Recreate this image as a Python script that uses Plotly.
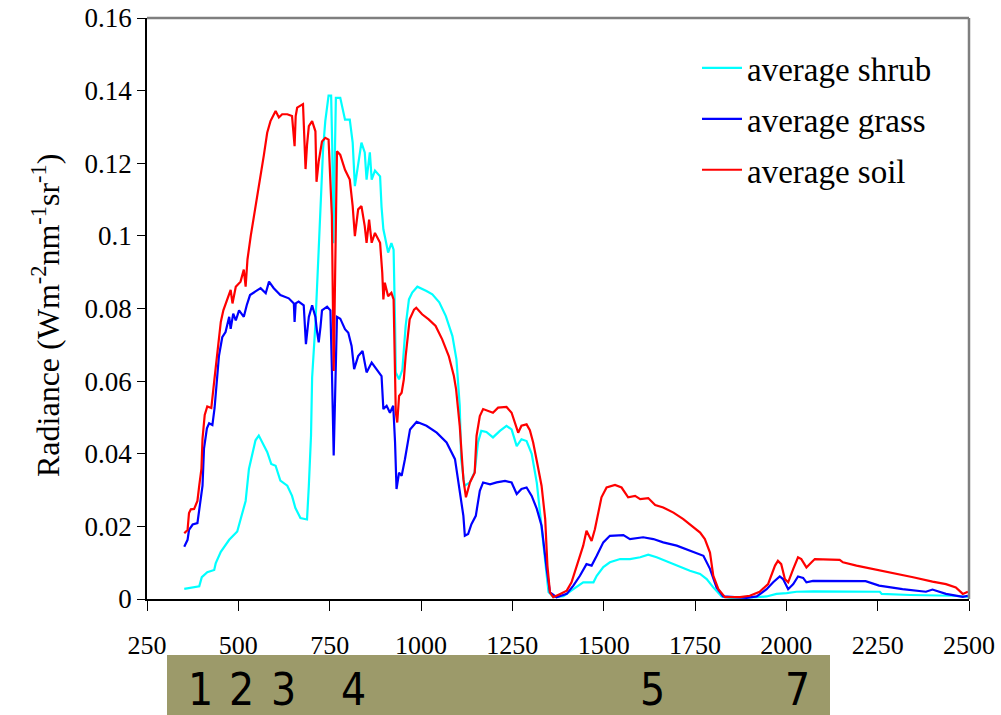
import plotly.graph_objects as go

# ---------------- data ----------------
series_names = ["average shrub", "average grass", "average soil"]

shrub_wl = [352, 393, 400, 415, 434, 438, 452, 475, 497, 506, 520, 529, 538, 547, 556, 568, 579, 590,
            602, 615, 634, 647, 656, 670, 688, 693, 699, 702, 711, 720, 725, 732, 738, 747, 754, 757,
            760, 763, 767, 779, 792, 805, 813, 819, 828, 837, 846, 851, 860, 865, 874, 888, 892, 897,
            901, 910, 919, 925, 929, 931, 940, 949, 958, 967, 976, 990, 1015, 1031, 1050, 1068, 1086,
            1097, 1106, 1110, 1119, 1133, 1147, 1156, 1165, 1179, 1197, 1216, 1234, 1248, 1262, 1275,
            1289, 1303, 1317, 1326, 1340, 1349, 1362, 1390, 1417, 1444, 1472, 1481, 1499, 1517, 1545,
            1572, 1600, 1622, 1645, 1673, 1700, 1736, 1764, 1782, 1800, 1823, 1846, 1891, 1919, 1946,
            1973, 2001, 2019, 2028, 2074, 2119, 2256, 2261, 2339, 2456, 2494, 2500]
shrub_val = [0.0028, 0.0035, 0.006, 0.0074, 0.008, 0.0098, 0.013, 0.0163, 0.0186, 0.0219, 0.027, 0.0358,
             0.0395, 0.0437, 0.045, 0.0428, 0.0405, 0.0372, 0.0367, 0.0326, 0.0312, 0.0284, 0.0251,
             0.0223, 0.0219, 0.0312, 0.0451, 0.061, 0.0758, 0.0963, 0.109, 0.124, 0.1316, 0.1386,
             0.1386, 0.125, 0.098, 0.12, 0.138, 0.138, 0.132, 0.132, 0.1257, 0.1137, 0.120, 0.1257,
             0.123, 0.1155, 0.123, 0.1155, 0.118, 0.1164, 0.108, 0.1018, 0.0999, 0.0954, 0.098, 0.0962,
             0.076, 0.0624, 0.0605, 0.0632, 0.0752, 0.0825, 0.0844, 0.086, 0.0848, 0.0839, 0.0817,
             0.0779, 0.0724, 0.066, 0.0532, 0.0385, 0.0312, 0.032, 0.035, 0.0431, 0.0463, 0.046, 0.0445,
             0.0463, 0.0477, 0.0467, 0.0421, 0.044, 0.0435, 0.040, 0.032, 0.0239, 0.011, 0.0019, 0.0005,
             0.0008, 0.0027, 0.0046, 0.0046, 0.0064, 0.0088, 0.0101, 0.011, 0.011, 0.0115, 0.0122,
             0.0115, 0.0103, 0.0092, 0.0078, 0.0069, 0.0055, 0.0032, 0.0007, 0.0003, 0.0003, 0.0005,
             0.0007, 0.0014, 0.0016, 0.0018, 0.002, 0.0021, 0.0021, 0.002, 0.0014, 0.0011, 0.0009,
             0.0006, 0.0006]

grass_wl = [352, 361, 365, 375, 388, 395, 402, 406, 414, 420, 429, 435, 441, 447, 456, 465, 475, 479,
            486, 493, 502, 515, 523, 532, 547, 561, 575, 584, 597, 615, 638, 652, 654, 657, 665, 679,
            685, 688, 693, 702, 711, 715, 720, 725, 729, 743, 752, 756, 761, 765, 770, 779, 792, 801,
            810, 817, 828, 840, 851, 865, 879, 892, 897, 906, 915, 924, 929, 933, 940, 947, 956, 965,
            970, 988, 1015, 1043, 1070, 1093, 1106, 1116, 1120, 1129, 1138, 1150, 1161, 1170, 1189,
            1207, 1230, 1248, 1262, 1275, 1289, 1303, 1317, 1330, 1344, 1353, 1371, 1399, 1417, 1435,
            1453, 1467, 1481, 1499, 1517, 1554, 1572, 1608, 1636, 1663, 1700, 1736, 1773, 1791, 1809,
            1827, 1891, 1919, 1946, 1964, 1982, 1991, 2005, 2019, 2032, 2046, 2055, 2073, 2119, 2217,
            2254, 2318, 2382, 2400, 2437, 2483, 2497]
grass_val = [0.0144, 0.0163, 0.019, 0.0205, 0.0209, 0.0256, 0.0312, 0.0414, 0.047, 0.0484, 0.0479,
             0.0526, 0.0609, 0.067, 0.0721, 0.0735, 0.0777, 0.0744, 0.0786, 0.0767, 0.0795, 0.0777,
             0.0809, 0.0837, 0.0847, 0.0856, 0.0842, 0.0874, 0.0856, 0.0837, 0.0828, 0.0814, 0.0763,
             0.0814, 0.0819, 0.0809, 0.0702, 0.074, 0.0777, 0.0809, 0.0777, 0.074, 0.0707, 0.075,
             0.0795, 0.0805, 0.0795, 0.0637, 0.0395, 0.0563, 0.0777, 0.0772, 0.0743, 0.0733, 0.0697,
             0.0633, 0.0669, 0.0683, 0.0624, 0.0651, 0.0633, 0.0614, 0.0523, 0.0532, 0.0513, 0.0532,
             0.0431, 0.0303, 0.0348, 0.0339, 0.0385, 0.0431, 0.0467, 0.0488, 0.0477, 0.0458, 0.0431,
             0.0385, 0.0303, 0.0229, 0.0174, 0.0179, 0.0206, 0.0229, 0.0298, 0.0321, 0.0316, 0.0321,
             0.0325, 0.0321, 0.0289, 0.0303, 0.0307, 0.0284, 0.0248, 0.0202, 0.0083, 0.0018, 0.0005,
             0.0014, 0.0037, 0.0064, 0.0096, 0.0092, 0.0119, 0.0156, 0.0174, 0.0176, 0.0165, 0.017,
             0.0165, 0.0156, 0.0147, 0.0133, 0.0119, 0.0083, 0.0032, 0.0007, 0.0003, 0.0007, 0.0027,
             0.0046, 0.0062, 0.0055, 0.0027, 0.0041, 0.0062, 0.0058, 0.0046, 0.005, 0.005, 0.0049,
             0.0037, 0.0027, 0.002, 0.0026, 0.0014, 0.0006, 0.0009]

soil_wl = [352, 361, 365, 370, 379, 388, 393, 399, 402, 408, 415, 426, 434, 443, 452, 459, 470, 479,
           484, 493, 506, 515, 520, 525, 534, 543, 552, 561, 570, 579, 588, 602, 611, 620, 634, 647,
           654, 657, 661, 677, 684, 688, 693, 702, 711, 714, 720, 729, 738, 747, 756, 761, 767, 770,
           779, 792, 805, 813, 819, 828, 837, 846, 851, 858, 865, 874, 888, 894, 897, 901, 910, 919,
           925, 929, 931, 935, 940, 947, 953, 958, 963, 969, 981, 987, 1003, 1021, 1040, 1058, 1076,
           1090, 1096, 1106, 1116, 1123, 1134, 1147, 1152, 1161, 1170, 1184, 1197, 1211, 1234, 1248,
           1266, 1275, 1289, 1298, 1307, 1317, 1330, 1340, 1346, 1353, 1362, 1381, 1399, 1412, 1422,
           1435, 1444, 1453, 1467, 1476, 1485, 1494, 1508, 1531, 1549, 1567, 1586, 1600, 1622, 1641,
           1663, 1691, 1718, 1745, 1764, 1777, 1791, 1800, 1814, 1832, 1873, 1900, 1927, 1950, 1969,
           1977, 1986, 1996, 2005, 2019, 2032, 2041, 2055, 2069, 2078, 2146, 2155, 2192, 2237, 2292,
           2347, 2400, 2437, 2464, 2483, 2497]
soil_val = [0.0181, 0.019, 0.0237, 0.0247, 0.0248, 0.027, 0.0312, 0.0358, 0.0442, 0.0507, 0.053,
            0.0526, 0.06, 0.0674, 0.0763, 0.0795, 0.0823, 0.0851, 0.0814, 0.086, 0.0874, 0.0907, 0.086,
            0.0935, 0.1, 0.1056, 0.1102, 0.1158, 0.1223, 0.1284, 0.1316, 0.1344, 0.1326, 0.1335,
            0.1335, 0.133, 0.1247, 0.133, 0.1353, 0.1363, 0.1184, 0.125, 0.1302, 0.1316, 0.1288,
            0.1149, 0.1205, 0.126, 0.127, 0.1265, 0.1056, 0.0628, 0.1009, 0.1233, 0.1223, 0.1182,
            0.1155, 0.1082, 0.0999, 0.1073, 0.1082, 0.1027, 0.0981, 0.1045, 0.0981, 0.1008, 0.0981,
            0.0898, 0.0825, 0.0871, 0.0834, 0.0843, 0.0825, 0.0633, 0.0514, 0.0486, 0.0559, 0.0568,
            0.0605, 0.0669, 0.0715, 0.077, 0.0797, 0.0802, 0.0784, 0.077, 0.0752, 0.0715, 0.0669,
            0.0614, 0.0578, 0.0477, 0.033, 0.028, 0.0321, 0.0348, 0.0449, 0.0504, 0.0523, 0.0518,
            0.0513, 0.0527, 0.0529, 0.0513, 0.0458, 0.0477, 0.0481, 0.0465, 0.0431, 0.038, 0.0312,
            0.022, 0.0092, 0.0018, 0.0005, 0.0014, 0.0023, 0.0046, 0.0078, 0.0115, 0.0147, 0.0188,
            0.016, 0.0192, 0.0238, 0.028, 0.0307, 0.0314, 0.0307, 0.028, 0.0284, 0.0275, 0.0278,
            0.0259, 0.0252, 0.0238, 0.022, 0.0197, 0.0183, 0.0165, 0.0128, 0.0064, 0.0027, 0.0005,
            0.0005, 0.0009, 0.002, 0.0041, 0.0092, 0.0105, 0.0096, 0.0055, 0.0046, 0.0083, 0.0115,
            0.011, 0.0087, 0.0101, 0.011, 0.0108, 0.0101, 0.0092, 0.0083, 0.0072, 0.006, 0.0048,
            0.0041, 0.0032, 0.0014, 0.002]

x_ticks = [250, 500, 750, 1000, 1250, 1500, 1750, 2000, 2250, 2500]
y_ticks = [0, 0.02, 0.04, 0.06, 0.08, 0.1, 0.12, 0.14, 0.16]
y_tick_text = ["0", "0.02", "0.04", "0.06", "0.08", "0.1", "0.12", "0.14", "0.16"]
band_labels = ["1", "2", "3", "4", "5", "7"]
y_title = "Radiance (Wm<sup>-2</sup>nm<sup>-1</sup>sr<sup>-1</sup>)"

# ---------------- layout helpers (page-pixel geometry) ----------------
W, H = 1001, 715
PAGE_L, PAGE_R, PAGE_T, PAGE_B = 147, 969, 18, 599   # plot area on the page
L, T = PAGE_L, PAGE_T
R, B = W - PAGE_R, H - PAGE_B
PW, PH = W - L - R, H - T - B


def px_x(p):
    return (p - L) / PW


def px_y(p):
    return (H - B - p) / PH


colors = ["#00FFFF", "#0000FF", "#FF0000"]
serif = "Liberation Serif, Times New Roman, serif"
narrow = "Liberation Sans Narrow, Arial Narrow, DejaVu Sans Condensed, sans-serif"

fig = go.Figure()
for name, xs, ys, c in zip(series_names, [shrub_wl, grass_wl, soil_wl],
                           [shrub_val, grass_val, soil_val], colors):
    fig.add_trace(go.Scatter(x=xs, y=ys, mode="lines", name=name, legendgroup=name,
                             line=dict(color=c, width=2.2)))

fig.update_layout(
    width=W, height=H,
    margin=dict(l=L, r=R, t=T, b=B, autoexpand=False),
    paper_bgcolor="white", plot_bgcolor="white",
    font=dict(family=serif, color="black"),
    showlegend=True,
    legend=dict(x=px_x(697), y=px_y(40), xanchor="left", yanchor="top",
                font=dict(family=serif, size=33, color="black"),
                bgcolor="rgba(0,0,0,0)", tracegroupgap=5, itemwidth=40),
    xaxis=dict(range=[250, 2500], tickvals=x_ticks, ticktext=[str(v) for v in x_ticks],
               showline=True, linecolor="black", linewidth=1.5, ticks="outside", ticklen=10,
               tickcolor="black", tickwidth=1.2, showgrid=False, zeroline=False,
               tickfont=dict(family=serif, size=26, color="black"), ticklabelstandoff=12,
               ticklabeloverflow="allow"),
    yaxis=dict(range=[0, 0.16], tickvals=y_ticks, ticktext=y_tick_text,
               showline=True, linecolor="black", linewidth=1.5, ticks="outside", ticklen=8,
               tickcolor="black", tickwidth=1.2, showgrid=False, zeroline=False,
               tickfont=dict(family=serif, size=27, color="black"), ticklabeloverflow="allow"),
)

shapes = [
    dict(type="line", xref="paper", yref="paper", x0=0, x1=1, y0=1, y1=1,
         line=dict(color="#7f7f7f", width=2.5), layer="above"),
    dict(type="line", xref="paper", yref="paper", x0=1, x1=1, y0=0, y1=1,
         line=dict(color="#7f7f7f", width=2.5), layer="above"),
    dict(type="rect", xref="paper", yref="paper", x0=px_x(167), x1=px_x(830),
         y0=px_y(655), y1=px_y(720), fillcolor="#9c9a6a", line=dict(width=0), layer="above"),
]
fig.update_layout(shapes=shapes)

annotations = [
    dict(text=y_title, xref="paper", yref="paper", x=px_x(46), y=px_y(316), textangle=-90,
         showarrow=False, xanchor="center", yanchor="middle",
         font=dict(family=serif, size=32, color="black")),
]
band_px = [200, 241, 283, 353, 652, 797]
for lab, p in zip(band_labels, band_px):
    annotations.append(dict(text=lab, xref="paper", yref="paper", x=px_x(p), y=px_y(689),
                            showarrow=False, xanchor="center", yanchor="middle",
                            font=dict(family=narrow, size=44, color="black")))
fig.update_layout(annotations=annotations)

fig.write_html("out.html", config={"displayModeBar": False},
               post_script="document.body.style.margin='0px';")
